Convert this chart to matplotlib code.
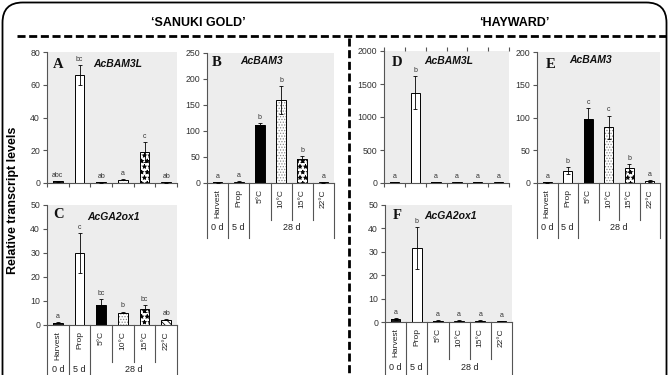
import numpy as np
import matplotlib
matplotlib.use('Agg')
import matplotlib.pyplot as plt
import matplotlib.transforms as mtransforms
from matplotlib.patches import FancyBboxPatch
from matplotlib.lines import Line2D

plt.rcParams['font.family'] = ['Liberation Sans', 'DejaVu Sans']
plt.rcParams['hatch.linewidth'] = 0.6
plt.rcParams['lines.scale_dashes'] = False

# ---------------- data ----------------
categories = ['Harvest', 'Prop', '5°C', '10°C', '15°C', '22°C']
periods = ['0 d', '5 d', '28 d']

a_vals = [1.0, 66.0, 0.5, 2.0, 19.0, 0.5]
a_err = [0.3, 6.0, 0.2, 0.4, 6.0, 0.2]
a_let = ['abc', 'bc', 'ab', 'a', 'c', 'ab']

b_vals = [1.0, 2.0, 112.0, 160.0, 46.0, 1.0]
b_err = [0.5, 1.0, 3.0, 27.0, 6.0, 0.5]
b_let = ['a', 'a', 'b', 'b', 'b', 'a']

c_vals = [1.0, 30.0, 8.5, 5.2, 6.8, 2.2]
c_err = [0.2, 8.5, 2.5, 0.4, 1.5, 0.3]
c_let = ['a', 'c', 'bc', 'b', 'bc', 'ab']

d_vals = [15.0, 1370.0, 10.0, 10.0, 10.0, 10.0]
d_err = [3.0, 250.0, 2.0, 2.0, 2.0, 2.0]
d_let = ['a', 'b', 'a', 'a', 'a', 'a']

e_vals = [1.0, 19.0, 97.0, 85.0, 23.0, 2.5]
e_err = [0.3, 5.0, 18.0, 18.0, 6.0, 1.5]
e_let = ['a', 'b', 'c', 'c', 'b', 'a']

f_vals = [1.2, 31.5, 0.5, 0.5, 0.5, 0.4]
f_err = [0.3, 9.0, 0.2, 0.2, 0.2, 0.1]
f_let = ['a', 'b', 'a', 'a', 'a', 'a']

W, H = 672, 375
fig = plt.figure(figsize=(W / 100, H / 100), dpi=100)


def rect(x0, x1, y0, y1):
    return [x0 / W, 1 - y1 / H, (x1 - x0) / W, (y1 - y0) / H]


def fx(x):
    return x / W


def fy(y):
    return 1 - y / H


styles = [
    dict(fc='#1a1a1a', hatch=None, hc='#1a1a1a'),
    dict(fc='white', hatch=None, hc='black'),
    dict(fc='black', hatch=None, hc='black'),
    dict(fc='white', hatch='......', hc='#8a8a8a'),
    dict(fc='white', hatch='***', hc='black'),
    dict(fc='white', hatch='\\\\\\\\\\', hc='black'),
]


def panel(box, vals, err, lets, ymax, ystep, table, top_ticks=False):
    x0, x1, y0, y1 = box
    ax = fig.add_axes(rect(x0, x1, y0, y1))
    hpx = y1 - y0
    ax.set_facecolor('#ededed')
    x = np.arange(len(categories))
    for i in x:
        st = styles[i]
        ax.bar(i, vals[i], width=0.45, color=st['fc'], edgecolor=st['hc'],
               hatch=st['hatch'], linewidth=0, zorder=2)
        ax.bar(i, vals[i], width=0.45, fill=False, edgecolor='black',
               linewidth=0.7, zorder=3)
    ax.errorbar(x, vals, yerr=err, fmt='none', ecolor='black',
                elinewidth=0.6, capsize=1.6, capthick=0.6, zorder=4)
    for i in x:
        ax.annotate(lets[i], (i, vals[i] + err[i]), xytext=(0, 1.5),
                    textcoords='offset points', ha='center', va='bottom',
                    fontsize=5, color='#333333')
    ax.set_xlim(-0.5, len(categories) - 0.5)
    ax.set_ylim(0, ymax)
    ax.set_yticks(np.arange(0, ymax + 1, ystep))
    for s in ['top', 'right']:
        ax.spines[s].set_visible(False)
    for s in ['left', 'bottom']:
        ax.spines[s].set_color('#555555')
        ax.spines[s].set_linewidth(0.8)
    ax.tick_params(axis='y', direction='out', length=3, width=0.8,
                   labelsize=6.3, colors='#555555', labelcolor='#333333', pad=2)
    if table:
        ax.set_xticks([])
        trans = mtransforms.blended_transform_factory(ax.transData, ax.transAxes)
        for b in range(len(categories) + 1):
            L = 37 if b in (3, 4, 5) else 55
            ax.add_line(Line2D([b - 0.5, b - 0.5], [0, -L / hpx], transform=trans,
                               color='#555555', lw=0.8, clip_on=False))
        for i, c in enumerate(categories):
            ax.text(i, -6 / hpx, c, transform=trans, rotation=90, ha='center',
                    va='top', fontsize=6, color='#222222')
        for px, p in zip([0, 1, 3.5], periods):
            ax.text(px, -45 / hpx, p, transform=trans, ha='center',
                    va='center', fontsize=6.5, color='#222222')
    else:
        ax.set_xticks(np.arange(len(categories) + 1) - 0.5)
        ax.set_xticklabels([])
        ax.tick_params(axis='x', direction='out', length=3, width=0.8,
                       colors='#555555', top=top_ticks)
    return ax


panel((47, 177, 52, 183), a_vals, a_err, a_let, 80, 20, table=False)
panel((207, 334, 53, 183), b_vals, b_err, b_let, 250, 50, table=True)
panel((47, 177, 205, 325), c_vals, c_err, c_let, 50, 10, table=True)
panel((384, 509, 51, 183), d_vals, d_err, d_let, 2000, 500, table=False, top_ticks=True)
panel((537, 660, 52, 183), e_vals, e_err, e_let, 200, 50, table=True)
panel((385, 512, 205, 322), f_vals, f_err, f_let, 50, 10, table=True)

# panel letters and gene names
letters = [('A', 53, 65), ('B', 212, 63), ('C', 53, 215),
           ('D', 392, 63), ('E', 546, 64), ('F', 393, 216)]
genes = [('AcBAM3L', 93, 64), ('AcBAM3', 240, 61), ('AcGA2ox1', 87, 217),
         ('AcBAM3L', 424, 61), ('AcBAM3', 569, 60), ('AcGA2ox1', 424, 216)]
for t, x, y in letters:
    fig.text(fx(x), fy(y), t, family='Liberation Serif', weight='bold',
             fontsize=10.5, ha='left', va='center', color='#111111')
for t, x, y in genes:
    fig.text(fx(x), fy(y), t, weight='bold', style='italic', fontsize=7.5,
             ha='left', va='center', color='#111111')

# titles and y label
fig.text(fx(198), fy(23), '\u2018SANUKI GOLD\u2019', weight='bold', fontsize=9,
         ha='center', va='center')
fig.text(fx(514), fy(23), '\u2018HAYWARD\u2019', weight='bold', fontsize=9,
         ha='center', va='center')
fig.text(fx(13), fy(200), 'Relative transcript levels', weight='bold',
         fontsize=9, rotation=90, ha='center', va='center')

# dashed separators
fig.add_artist(Line2D([fx(17), fx(666)], [fy(36), fy(36)], color='black',
                      lw=2.0, dashes=(5.8, 2.6)))
fig.add_artist(Line2D([fx(349), fx(349)], [fy(38), fy(380)], color='black',
                      lw=2.0, dashes=(5.8, 2.6)))

# outer rounded frame (open at bottom)
frame = FancyBboxPatch((fx(2.5), fy(420)), fx(666.5) - fx(2.5), fy(2.5) - fy(420),
                       boxstyle='round,pad=0,rounding_size=0.03',
                       transform=fig.transFigure, fill=False, ec='black', lw=1.3,
                       mutation_aspect=W / H)
fig.add_artist(frame)

fig.savefig('out.png', dpi=100, facecolor='white')
